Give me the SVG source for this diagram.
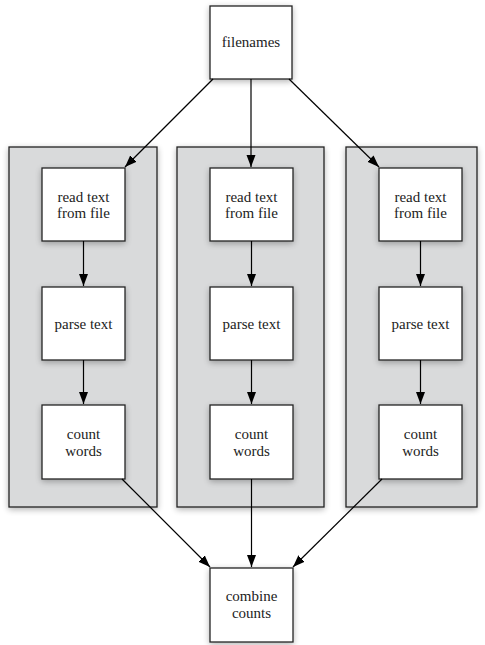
<svg xmlns="http://www.w3.org/2000/svg" width="485" height="645" viewBox="0 0 485 645">
<style>
.cl{fill:#d9dadb;stroke:#222;stroke-width:1.3}
.bx{fill:#fff;stroke:#222;stroke-width:1.3}
.t{font-family:'Liberation Serif','DejaVu Serif',serif;font-size:15px;fill:#222;text-anchor:middle}
.e{stroke:#000;stroke-width:1.2;fill:none;marker-end:url(#ah)}
</style>
<defs>
<filter id="sh" x="-30%" y="-30%" width="160%" height="160%">
<feGaussianBlur in="SourceAlpha" stdDeviation="3"/>
<feOffset dx="0" dy="2" result="b"/>
<feComponentTransfer><feFuncA type="linear" slope="0.3"/></feComponentTransfer>
<feMerge><feMergeNode/><feMergeNode in="SourceGraphic"/></feMerge>
</filter>
<marker id="ah" markerWidth="12" markerHeight="10" refX="12" refY="5" orient="auto" markerUnits="userSpaceOnUse">
<path d="M0,0.5 L12,5 L0,9.5 Z" fill="#000"/>
</marker>
</defs>
<g id="clusters">
<rect id="cluster1" class="cl" x="9" y="147" width="148" height="360" filter="url(#sh)"/>
<rect id="cluster2" class="cl" x="177" y="147" width="147" height="360" filter="url(#sh)"/>
<rect id="cluster3" class="cl" x="346" y="147" width="131" height="360" filter="url(#sh)"/>
</g>
<g id="filenames"><rect class="bx" x="210" y="6" width="82" height="73" filter="url(#sh)"/><text class="t" x="251" y="47">filenames</text></g>
<g id="read1"><rect class="bx" x="42" y="168" width="83" height="73" filter="url(#sh)"/><text class="t" x="83.5" y="202">read text</text><text class="t" x="83.5" y="218">from file</text></g>
<g id="read2"><rect class="bx" x="210" y="168" width="83" height="73" filter="url(#sh)"/><text class="t" x="251.5" y="202">read text</text><text class="t" x="251.5" y="218">from file</text></g>
<g id="read3"><rect class="bx" x="379" y="168" width="83" height="73" filter="url(#sh)"/><text class="t" x="420.5" y="202">read text</text><text class="t" x="420.5" y="218">from file</text></g>
<g id="parse1"><rect class="bx" x="42" y="287" width="83" height="73" filter="url(#sh)"/><text class="t" x="83.5" y="329">parse text</text></g>
<g id="parse2"><rect class="bx" x="210" y="287" width="83" height="73" filter="url(#sh)"/><text class="t" x="251.5" y="329">parse text</text></g>
<g id="parse3"><rect class="bx" x="379" y="287" width="83" height="73" filter="url(#sh)"/><text class="t" x="420.5" y="329">parse text</text></g>
<g id="count1"><rect class="bx" x="42" y="405" width="83" height="74" filter="url(#sh)"/><text class="t" x="83.5" y="439">count</text><text class="t" x="83.5" y="456">words</text></g>
<g id="count2"><rect class="bx" x="210" y="405" width="83" height="74" filter="url(#sh)"/><text class="t" x="251.5" y="439">count</text><text class="t" x="251.5" y="456">words</text></g>
<g id="count3"><rect class="bx" x="379" y="405" width="83" height="74" filter="url(#sh)"/><text class="t" x="420.5" y="439">count</text><text class="t" x="420.5" y="456">words</text></g>
<g id="combine"><rect class="bx" x="210" y="568" width="83" height="74" filter="url(#sh)"/><text class="t" x="251.5" y="601">combine</text><text class="t" x="251.5" y="618">counts</text></g>
<g id="connectors">
<line class="e" x1="213" y1="79" x2="125" y2="167"/>
<line class="e" x1="251" y1="79" x2="251" y2="167"/>
<line class="e" x1="289" y1="79" x2="379" y2="167"/>
<line class="e" x1="83.5" y1="241" x2="83.5" y2="286"/>
<line class="e" x1="251.5" y1="241" x2="251.5" y2="286"/>
<line class="e" x1="420.5" y1="241" x2="420.5" y2="286"/>
<line class="e" x1="83.5" y1="360" x2="83.5" y2="404"/>
<line class="e" x1="251.5" y1="360" x2="251.5" y2="404"/>
<line class="e" x1="420.5" y1="360" x2="420.5" y2="404"/>
<line class="e" x1="122" y1="479" x2="210" y2="567"/>
<line class="e" x1="251.5" y1="479" x2="251.5" y2="567"/>
<line class="e" x1="382" y1="479" x2="293" y2="567"/>
</g>
</svg>
